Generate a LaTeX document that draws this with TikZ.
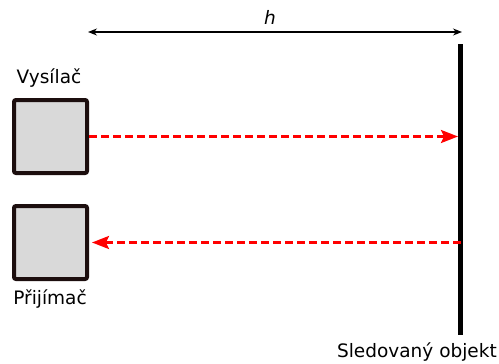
\documentclass[tikz,border=0pt]{standalone}
\usepackage{fontspec}
\setmainfont{DejaVu Sans}
\usepackage{tikz}
\usetikzlibrary{arrows.meta,positioning,calc}
\definecolor{okraj}{RGB}{28,14,14}
\definecolor{vypln}{RGB}{217,217,217}
\definecolor{paprsek}{RGB}{255,0,0}

\begin{document}
\begin{tikzpicture}[x=1pt,y=-1pt,
    font=\fontsize{18.5}{22}\selectfont,
    krabice/.style={draw=okraj, fill=vypln, line width=4pt, rounded corners=2pt,
                    minimum size=73pt, inner sep=0pt},
    signal/.style={paprsek, line width=2.5pt, dash pattern=on 8pt off 4pt,
                   -{Stealth[length=17pt,width=13pt,inset=3pt]}},
    popisek/.style={inner sep=0pt}]
  \useasboundingbox (0,0) rectangle (499,364);

  % Vysilac a prijimac
  \node[krabice] (vys) at (50.5,136.5) {};
  \node[krabice] (pri) at (50.5,242.5) {};

  % Sledovany objekt
  \coordinate (objH) at (460.5,44);
  \coordinate (objD) at (460.5,335);
  \draw[line width=5pt] (objH) -- (objD);
  \coordinate (dopad) at (458,136.5);
  \coordinate (odraz) at (460.5,242.5);

  % Paprsky
  \draw[signal] (vys.east) -- (dopad);
  \draw[signal, shorten >=3pt] (odraz) -- (pri.east);

  % Vzdalenost h
  \coordinate (hL) at (88,32);
  \coordinate (hP) at (462,32);
  \draw[line width=1.2pt, {Stealth[length=9pt,width=7pt]}-{Stealth[length=9pt,width=7pt]}] (hL) -- (hP);
  \node[popisek] (hlab) at (270,17) {\textit{h}};

  % Popisky
  \node[popisek] (lvys) at (49,78) {Vysílač};
  \node[popisek] (lpri) at (50,299) {Přijímač};
  \node[popisek, anchor=east] (lobj) at (497,352) {Sledovaný objekt};
\end{tikzpicture}
\end{document}
